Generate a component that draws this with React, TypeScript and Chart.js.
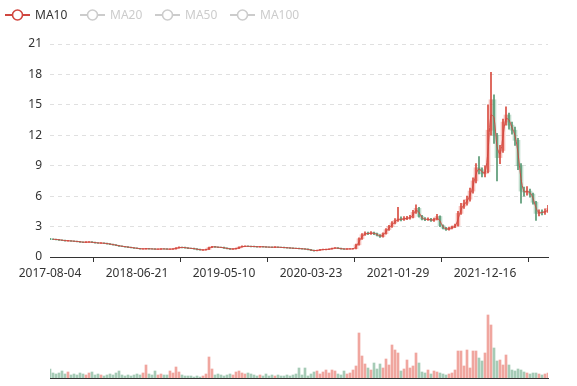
import React, { useEffect, useRef } from 'react';
import { Chart, registerables } from 'chart.js';
Chart.register(...registerables);

const tickDates = ['2017-08-04', '2018-06-21', '2019-05-10', '2020-03-23', '2021-01-29', '2021-12-16'];
const tickIndex = [0, 29, 58, 87, 116, 145];

const opens = [
  1.80,1.76,1.73,1.70,1.66,1.63,1.58,1.60,1.56,1.54,
  1.51,1.47,1.44,1.46,1.48,1.43,1.40,1.36,1.38,1.34,
  1.29,1.25,1.19,1.13,1.07,1.03,0.99,0.95,0.91,0.87,
  0.83,0.79,0.80,0.82,0.80,0.79,0.77,0.78,0.80,0.79,
  0.77,0.78,0.80,0.88,0.96,0.94,0.90,0.86,0.85,0.80,
  0.74,0.69,0.70,0.74,0.95,1.02,0.98,0.96,0.94,0.88,
  0.82,0.78,0.80,0.85,0.98,1.05,1.06,1.05,1.04,1.02,
  1.00,1.02,1.00,0.98,0.97,0.96,0.98,0.96,0.94,0.92,
  0.90,0.88,0.86,0.84,0.82,0.80,0.78,0.72,0.66,0.62,
  0.66,0.72,0.74,0.75,0.78,0.86,0.90,0.84,0.80,0.78,
  0.79,0.80,0.82,1.20,1.80,2.20,2.35,2.30,2.38,2.30,
  2.15,2.00,2.30,2.70,3.00,3.35,3.60,3.75,3.70,3.80,
  3.85,3.90,4.40,4.80,4.00,3.75,3.70,3.72,3.60,3.70,
  4.00,3.10,2.85,2.70,2.85,2.95,3.10,4.30,5.00,5.30,
  5.70,6.50,7.50,8.80,8.60,8.20,8.40,12.50,15.50,12.00,
  9.80,10.50,13.30,14.00,13.00,12.50,11.50,9.00,6.50,6.40,
  6.50,6.20,5.40,4.30,4.45,4.40,4.50,
];
const closes = [
  1.77,1.74,1.72,1.68,1.64,1.60,1.60,1.57,1.55,1.52,
  1.48,1.45,1.47,1.48,1.44,1.40,1.38,1.37,1.35,1.30,
  1.26,1.20,1.14,1.08,1.04,1.00,0.96,0.92,0.88,0.84,
  0.80,0.80,0.82,0.80,0.79,0.77,0.78,0.80,0.79,0.77,
  0.78,0.80,0.88,0.96,0.94,0.90,0.86,0.85,0.80,0.74,
  0.70,0.70,0.74,0.95,1.02,0.98,0.96,0.94,0.88,0.82,
  0.78,0.80,0.85,0.98,1.05,1.06,1.05,1.04,1.02,1.00,
  1.02,1.00,0.98,0.97,0.96,0.98,0.96,0.94,0.92,0.90,
  0.88,0.86,0.84,0.82,0.80,0.78,0.72,0.66,0.62,0.66,
  0.72,0.74,0.75,0.78,0.86,0.90,0.84,0.80,0.78,0.80,
  0.80,0.82,1.20,1.80,2.20,2.35,2.30,2.38,2.30,2.15,
  2.00,2.30,2.70,3.00,3.35,3.60,3.75,3.70,3.80,3.85,
  3.90,4.40,4.80,4.00,3.75,3.70,3.72,3.60,3.70,4.00,
  3.10,2.85,2.70,2.85,2.95,3.10,4.30,5.00,5.30,5.70,
  6.50,7.50,8.80,8.60,8.20,8.40,12.50,15.50,12.00,9.80,
  10.50,13.30,14.00,13.00,12.50,11.50,9.00,6.50,6.40,6.50,
  6.20,5.40,4.30,4.40,4.40,4.50,4.80,
];
const lows = [
  1.72,1.70,1.68,1.64,1.60,1.57,1.55,1.53,1.51,1.48,
  1.44,1.41,1.42,1.43,1.41,1.37,1.34,1.33,1.31,1.27,
  1.22,1.17,1.11,1.05,1.01,0.97,0.93,0.89,0.85,0.81,
  0.77,0.76,0.77,0.77,0.76,0.74,0.74,0.75,0.76,0.74,
  0.74,0.75,0.78,0.86,0.90,0.87,0.83,0.82,0.77,0.71,
  0.67,0.66,0.68,0.73,0.93,0.95,0.93,0.91,0.85,0.79,
  0.75,0.75,0.78,0.83,0.96,1.02,1.01,1.00,0.99,0.97,
  0.97,0.97,0.95,0.94,0.93,0.93,0.93,0.91,0.89,0.87,
  0.85,0.83,0.81,0.79,0.77,0.75,0.69,0.63,0.58,0.60,
  0.64,0.70,0.71,0.72,0.76,0.84,0.81,0.77,0.75,0.75,
  0.76,0.77,0.80,1.16,1.74,2.12,2.20,2.22,2.20,2.08,
  1.94,1.96,2.25,2.62,2.92,3.25,3.50,3.55,3.60,3.68,
  3.72,3.85,4.30,3.92,3.65,3.58,3.60,3.50,3.52,3.65,
  3.00,2.76,2.62,2.65,2.78,2.88,3.05,4.20,4.80,5.10,
  5.50,6.30,7.30,8.20,7.90,7.90,8.30,12.00,11.20,7.50,
  9.20,10.30,13.00,12.60,12.10,11.00,8.60,5.30,6.00,6.10,
  5.90,5.20,3.60,4.05,4.15,4.20,4.40,
];
const highs = [
  1.83,1.79,1.76,1.73,1.69,1.66,1.64,1.63,1.60,1.58,
  1.54,1.50,1.51,1.52,1.51,1.46,1.43,1.41,1.40,1.37,
  1.32,1.28,1.22,1.16,1.10,1.06,1.02,0.98,0.94,0.90,
  0.86,0.84,0.86,0.85,0.83,0.82,0.81,0.83,0.83,0.82,
  0.81,0.83,0.92,1.00,0.99,0.97,0.93,0.89,0.88,0.83,
  0.77,0.73,0.77,0.98,1.06,1.05,1.01,0.99,0.97,0.91,
  0.85,0.83,0.88,1.01,1.09,1.10,1.09,1.08,1.07,1.05,
  1.06,1.05,1.03,1.01,1.00,1.02,1.01,0.99,0.97,0.95,
  0.93,0.91,0.89,0.87,0.85,0.83,0.81,0.75,0.69,0.69,
  0.75,0.77,0.78,0.81,0.89,0.94,0.93,0.87,0.83,0.83,
  0.84,0.86,1.28,1.90,2.30,2.48,2.45,2.50,2.45,2.36,
  2.20,2.38,2.80,3.12,3.50,3.78,4.90,3.95,3.98,4.02,
  4.10,4.60,5.15,4.90,4.10,3.88,3.86,3.82,3.84,4.20,
  4.05,3.18,2.92,2.95,3.05,3.25,4.50,5.30,5.60,6.00,
  6.80,7.80,9.20,9.90,8.80,9.00,15.00,18.20,16.00,12.20,
  11.00,13.60,14.80,14.20,13.30,12.80,11.70,9.20,6.90,6.95,
  6.70,6.30,5.50,4.65,4.65,4.75,5.10,
];
const volumes = [
  9,5,4,5,7,4,6,3,4,3,
  5,4,3,5,6,3,4,3,2,3,
  4,3,5,7,3,2,3,2,3,4,
  3,5,13,4,3,7,3,4,3,3,
  7,5,11,6,3,2,2,2,1,2,
  1,2,4,21,9,3,4,3,2,3,
  4,3,6,7,5,4,5,4,3,2,
  3,2,4,2,3,2,3,2,2,3,
  2,3,4,10,3,10,2,4,6,7,
  4,6,8,5,8,7,4,3,7,4,
  5,8,12,45,22,14,10,8,15,9,
  14,10,19,13,33,28,25,7,9,18,
  10,12,25,15,6,5,8,4,7,6,
  5,4,3,4,5,8,27,27,12,28,
  10,27,27,20,17,25,63,53,30,17,
  18,13,23,13,8,7,9,8,6,5,
  4,5,5,4,3,4,5,
];

const maNames = ['MA10', 'MA20', 'MA50', 'MA100'];
const maWindows = [2, 3, 7, 14];
const maShown = [true, false, false, false];
const maColor = '#d0463f';
const legendOff = '#cccccc';

const UP_BODY = 'rgba(236,110,100,0.42)';
const DOWN_BODY = 'rgba(110,176,138,0.42)';
const UP_LINE = 'rgba(214,66,54,0.95)';
const DOWN_LINE = 'rgba(78,146,108,0.95)';
const UP_VOL = 'rgba(228,92,80,0.55)';
const DOWN_VOL = 'rgba(92,160,122,0.55)';

const FONT = "'Noto Sans', 'Open Sans', sans-serif";

function movingAverage(values: number[], w: number): (number | null)[] {
  return values.map((_, i) => {
    if (i < w - 1) return null;
    let s = 0;
    for (let k = i - w + 1; k <= i; k++) s += values[k];
    return s / w;
  });
}

function LegendIcon({ color }: { color: string }) {
  return (
    <svg width={25} height={14} style={{ display: 'block' }}>
      <line x1={0} y1={7} x2={25} y2={7} stroke={color} strokeWidth={2} />
      <circle cx={12.5} cy={7} r={5} fill="#fff" stroke={color} strokeWidth={1.6} />
    </svg>
  );
}

export default function App() {
  const priceRef = useRef<HTMLCanvasElement>(null);
  const volRef = useRef<HTMLCanvasElement>(null);

  useEffect(() => {
    const idx = closes.map((_, i) => i);
    const up = idx.map((i) => closes[i] >= opens[i]);
    const last = closes.length - 1;

    const maSets = maNames.map((name, k) => ({
      type: 'line' as const,
      label: name,
      data: movingAverage(closes, maWindows[k]).map((v, i) => ({ x: i, y: v })),
      borderColor: 'rgba(208,70,63,0.9)',
      borderWidth: 1,
      pointRadius: 0,
      tension: 0.3,
      hidden: !maShown[k],
      order: 1,
    }));

    const price = new Chart(priceRef.current!, {
      type: 'bar',
      data: {
        datasets: [
          {
            type: 'bar',
            label: 'body',
            data: idx.map((i) => ({ x: i, y: [opens[i], closes[i]] })) as any,
            backgroundColor: idx.map((i) => (up[i] ? UP_BODY : DOWN_BODY)),
            barThickness: 4,
            grouped: false,
            order: 3,
          } as any,
          {
            type: 'bar',
            label: 'wick',
            data: idx.map((i) => ({ x: i, y: [lows[i], highs[i]] })) as any,
            backgroundColor: idx.map((i) => (up[i] ? UP_LINE : DOWN_LINE)),
            barThickness: 1,
            grouped: false,
            order: 2,
          } as any,
          ...(maSets as any[]),
        ],
      },
      options: {
        responsive: false,
        animation: false,
        devicePixelRatio: 1,
        layout: { padding: { left: 0, right: 29, top: 44, bottom: 0 } },
        plugins: { legend: { display: false }, tooltip: { enabled: false } },
        scales: {
          x: {
            type: 'linear',
            min: 0,
            max: last,
            offset: false,
            afterBuildTicks: (s: any) => {
              s.ticks = tickIndex.map((v) => ({ value: v }));
            },
            afterFit: (s: any) => {
              s.height = 25;
            },
            ticks: {
              autoSkip: false,
              maxRotation: 0,
              padding: 4,
              color: '#333',
              font: { family: FONT, size: 12 },
              callback: (v: any) => {
                const k = tickIndex.indexOf(Number(v));
                return k >= 0 ? tickDates[k] : '';
              },
            },
            grid: {
              drawOnChartArea: false,
              drawTicks: true,
              tickLength: 5,
              tickColor: '#333',
              color: '#333',
            },
            border: { display: true, color: '#333', width: 1 },
          },
          y: {
            min: 0,
            max: 21,
            afterFit: (s: any) => {
              s.width = 50;
            },
            ticks: {
              stepSize: 3,
              padding: 8,
              color: '#333',
              font: { family: FONT, size: 12 },
            },
            grid: { color: '#e0e0e0', drawTicks: false, borderDash: [4, 4] } as any,
            border: { display: false, dash: [4, 4] },
          },
        },
      } as any,
    });

    const vol = new Chart(volRef.current!, {
      type: 'bar',
      data: {
        datasets: [
          {
            label: 'Volume',
            data: idx.map((i) => ({ x: i, y: volumes[i] })) as any,
            backgroundColor: idx.map((i) => (up[i] ? UP_VOL : DOWN_VOL)),
            barThickness: 2,
          } as any,
        ],
      },
      options: {
        responsive: false,
        animation: false,
        devicePixelRatio: 1,
        layout: { padding: { left: 50, right: 29, top: 8, bottom: 0 } },
        plugins: { legend: { display: false }, tooltip: { enabled: false } },
        scales: {
          x: {
            type: 'linear',
            min: 0,
            max: last,
            offset: false,
            afterFit: (s: any) => {
              s.height = 8;
            },
            ticks: { display: false },
            grid: { display: false, drawTicks: false },
            border: { display: true, color: '#333', width: 1 },
          },
          y: { display: false, min: 0, max: 70 },
        },
      } as any,
    });

    return () => {
      price.destroy();
      vol.destroy();
    };
  }, []);

  const legendLeft = [5, 80, 155, 230];

  return (
    <div style={{ position: 'fixed', left: 0, top: 0, width: 577, height: 386, background: '#fff', fontFamily: FONT }}>
      <canvas ref={priceRef} width={577} height={282} style={{ position: 'absolute', left: 0, top: 0, display: 'block' }} />
      <canvas ref={volRef} width={577} height={86} style={{ position: 'absolute', left: 0, top: 300, display: 'block' }} />
      {maNames.map((name, k) => (
        <div
          key={name}
          style={{
            position: 'absolute',
            left: legendLeft[k],
            top: 8,
            height: 14,
            display: 'flex',
            alignItems: 'center',
            gap: 5,
            fontSize: 12,
            lineHeight: '14px',
            color: maShown[k] ? '#333' : legendOff,
            whiteSpace: 'nowrap',
          }}
        >
          <LegendIcon color={maShown[k] ? maColor : legendOff} />
          <span>{name}</span>
        </div>
      ))}
    </div>
  );
}
